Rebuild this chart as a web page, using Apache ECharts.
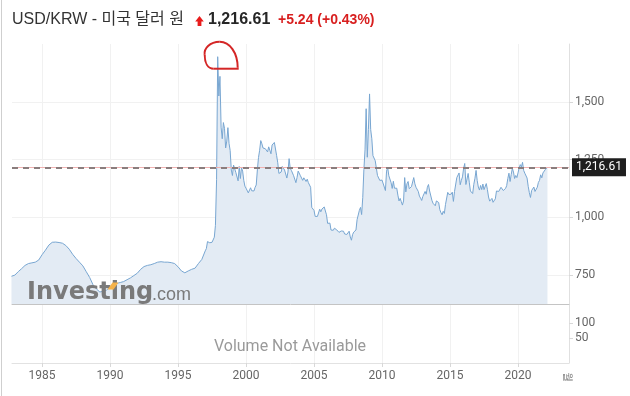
<!DOCTYPE html>
<html>
<head>
<meta charset="utf-8">
<script src="https://cdn.jsdelivr.net/npm/echarts@6/dist/echarts.min.js"></script>
<style>html,body{margin:0;padding:0;background:#fff;}#c{width:630px;height:396px;}</style>
</head>
<body>
<div id="c"></div>
<script>
// ---- data ----
const titleText = 'USD/KRW - 미국 달러 원';
const lastPrice = 1216.61;
const lastPriceText = '1,216.61';
const changeText = '+5.24 (+0.43%)';
const xTickYears = [1985, 1990, 1995, 2000, 2005, 2010, 2015, 2020];
const yTicks = [750, 1000, 1250, 1500];
const volTicks = [50, 100];

// quarterly values from Oct 1982 to Oct 1996 (every 3 months)
const quarterlyStart = 1982.75;
const quarterlyValues = [
  745,
  750, 765, 778, 792,
  800, 803, 806, 815,
  838, 858, 880, 892,
  893, 891, 888, 878,
  862, 840, 822, 806,
  790, 765, 740, 708,
  690, 677, 680, 685,
  700, 710, 714, 718,
  722, 730, 738, 748,
  758, 775, 787, 792,
  795, 800, 806, 808,
  806, 806, 804, 800,
  786, 768, 760, 768,
  775, 780, 800, 818
];
// monthly values from Jan 1997 to Mar 2022
const monthlyStart = 1997;
const monthlyValues = [
  855, 865, 895, 893, 890, 888, 892, 900, 914, 965, 1163, 1695,
  1525, 1610, 1390, 1340, 1410, 1385, 1300, 1330, 1388, 1320, 1289, 1205,
  1181, 1226, 1230, 1194, 1188, 1158, 1220, 1168, 1215, 1200, 1160, 1135,
  1126, 1130, 1106, 1109, 1128, 1115, 1116, 1114, 1130, 1140, 1205, 1259,
  1290, 1332, 1318, 1300, 1302, 1297, 1305, 1283, 1305, 1290, 1275, 1313,
  1319, 1324, 1318, 1267, 1236, 1190, 1188, 1196, 1220, 1226, 1205, 1200,
  1170, 1196, 1254, 1212, 1203, 1200, 1180, 1176, 1150, 1172, 1200, 1195,
  1180, 1178, 1160, 1171, 1167, 1155, 1165, 1150, 1150, 1130, 1043, 1035,
  1030, 1004, 1000, 1004, 1005, 1035, 1024, 1036, 1043, 1045, 1038, 1011,
  974, 973, 975, 945, 949, 944, 953, 961, 946, 952, 935, 930,
  941, 942, 940, 928, 930, 926, 920, 940, 915, 901, 925, 936,
  935, 945, 990, 998, 1030, 1043, 1012, 1086, 1207, 1292, 1470, 1260,
  1380, 1534, 1380, 1340, 1267, 1274, 1245, 1250, 1181, 1182, 1160, 1164,
  1161, 1156, 1131, 1116, 1200, 1216, 1180, 1187, 1150, 1125, 1156, 1126,
  1118, 1126, 1096, 1071, 1082, 1068, 1053, 1071, 1172, 1110, 1145, 1155,
  1124, 1125, 1133, 1131, 1172, 1145, 1130, 1133, 1112, 1092, 1083, 1073,
  1090, 1085, 1112, 1100, 1130, 1142, 1114, 1111, 1074, 1061, 1059, 1050,
  1071, 1066, 1064, 1033, 1020, 1011, 1026, 1017, 1055, 1057, 1108, 1099,
  1103, 1100, 1109, 1069, 1112, 1116, 1172, 1180, 1192, 1141, 1160, 1175,
  1212, 1233, 1142, 1140, 1190, 1152, 1114, 1115, 1103, 1143, 1169, 1203,
  1159, 1131, 1118, 1138, 1120, 1144, 1120, 1125, 1146, 1120, 1088, 1070,
  1065, 1082, 1065, 1067, 1080, 1114, 1116, 1112, 1110, 1130, 1122, 1116,
  1112, 1125, 1137, 1168, 1191, 1155, 1185, 1212, 1196, 1168, 1181, 1172,
  1192, 1214, 1228, 1218, 1238, 1203, 1191, 1187, 1170, 1134, 1107, 1086,
  1116, 1124, 1131, 1112, 1112, 1130, 1151, 1160, 1184, 1171, 1192, 1188,
  1206, 1202, 1216.61
];

// ---- build series points ----
const points = [];
quarterlyValues.forEach((v, i) => points.push([quarterlyStart + i * 0.25, v]));
monthlyValues.forEach((v, i) => points.push([monthlyStart + i / 12, v]));
let peakIdx = 0;
points.forEach((p, i) => { if (p[1] > points[peakIdx][1]) peakIdx = i; });

const X_MIN = 1982.79, X_MAX = 2023.75;
const FONT = 'Roboto, "Liberation Sans", Arial, sans-serif';
const fmt = v => Number(v).toLocaleString('en-US');

const chart = echarts.init(document.getElementById('c'), null, {renderer: 'canvas'});

const baseGraphic = [
  {type: 'line', shape: {x1: 1.5, y1: 0, x2: 1.5, y2: 396}, style: {stroke: '#cfcfcf', lineWidth: 1}, z: 10},
  {type: 'text', x: 12, y: 20, style: {text: titleText, font: '16px "Liberation Sans", "Noto Sans CJK KR", sans-serif', fill: '#333', verticalAlign: 'middle'}, z: 10},
  {type: 'polygon', shape: {points: [[199.5,16],[203.8,21.5],[201.4,21.5],[201.4,26],[197.6,26],[197.6,21.5],[195.2,21.5]]}, style: {fill: '#e81c1c'}, z: 10},
  {type: 'text', x: 208, y: 20, style: {text: lastPriceText, font: 'bold 16px "Liberation Sans", Arial, sans-serif', fill: '#262626', verticalAlign: 'middle'}, z: 10},
  {type: 'text', x: 278, y: 20.5, style: {text: changeText, font: 'bold 14px "Liberation Sans", Arial, sans-serif', fill: '#d81f1f', verticalAlign: 'middle'}, z: 10},
  {type: 'text', x: 290, y: 347, style: {text: 'Volume Not Available', font: '16px ' + FONT, fill: '#9a9a9a', align: 'center', verticalAlign: 'middle'}, z: 10},
  {type: 'text', x: 27, y: 292.5, style: {text: 'Investing', font: 'bold 24px "DejaVu Sans", sans-serif', fill: '#7a7a7a', verticalAlign: 'middle'}, z: 20},
  {type: 'polygon', shape: {points: [[107.5,289.5],[112.5,282.5],[118.5,282.5],[113.5,289.5]]}, style: {fill: '#f4b24a'}, z: 21},
  {type: 'text', x: 152, y: 294.7, style: {text: '.com', font: '18px "Liberation Sans", Arial, sans-serif', fill: '#7a7a7a', verticalAlign: 'middle'}, z: 20},
  {type: 'text', x: 568, y: 377, rotation: -Math.PI / 2, style: {text: '월', font: '10px "Noto Sans CJK KR", sans-serif', fill: '#777', align: 'center', verticalAlign: 'middle'}, z: 10}
];

const option = {
  animation: false,
  backgroundColor: '#fff',
  grid: [
    {left: 12, right: 61, top: 44, height: 260},
    {left: 12, right: 61, top: 304, height: 59}
  ],
  xAxis: [
    {
      type: 'value', gridIndex: 0, min: X_MIN, max: X_MAX,
      axisLine: {show: true, onZero: false, lineStyle: {color: '#c4c4c4'}},
      axisTick: {show: false, customValues: xTickYears},
      axisLabel: {show: false, customValues: xTickYears},
      splitLine: {show: true, lineStyle: {color: '#f1f1f1'}}
    },
    {
      type: 'value', gridIndex: 1, min: X_MIN, max: X_MAX,
      axisLine: {show: true, onZero: false, lineStyle: {color: '#e2e2e2'}},
      axisTick: {show: true, length: 4, customValues: xTickYears, lineStyle: {color: '#d8d8d8'}},
      axisLabel: {show: true, customValues: xTickYears, formatter: v => String(v), color: '#666', fontSize: 12, fontFamily: FONT, margin: 7},
      splitLine: {show: true, lineStyle: {color: '#f1f1f1'}}
    }
  ],
  yAxis: [
    {
      type: 'value', gridIndex: 0, position: 'right', min: 625, max: 1750,
      axisLine: {show: true, lineStyle: {color: '#e0e0e0'}},
      axisTick: {show: true, length: 4, customValues: yTicks, lineStyle: {color: '#d8d8d8'}},
      axisLabel: {show: true, customValues: yTicks, formatter: fmt, color: '#666', fontSize: 12, fontFamily: FONT, margin: 6},
      splitLine: {show: true, lineStyle: {color: '#f1f1f1'}}
    },
    {
      type: 'value', gridIndex: 1, position: 'right', min: -33, max: 163,
      axisLine: {show: true, lineStyle: {color: '#e0e0e0'}},
      axisTick: {show: true, length: 4, customValues: volTicks, lineStyle: {color: '#d8d8d8'}},
      axisLabel: {show: true, customValues: volTicks, formatter: fmt, color: '#666', fontSize: 12, fontFamily: FONT, margin: 6},
      splitLine: {show: false}
    }
  ],
  series: [{
    type: 'line', xAxisIndex: 0, yAxisIndex: 0,
    data: points, showSymbol: false, symbol: 'none',
    lineStyle: {color: '#78a6d1', width: 1},
    areaStyle: {color: '#e3ebf4', opacity: 1, origin: 'start'},
    z: 2,
    markLine: {
      silent: true, symbol: 'none', animation: false,
      data: [
        {yAxis: lastPrice, lineStyle: {color: '#f0b2b2', type: 'solid', width: 1}, label: {show: false}},
        {yAxis: lastPrice, lineStyle: {color: '#8a7d7d', type: [6, 5], width: 2},
         label: {show: true, position: 'end', distance: 3, formatter: lastPriceText,
                 backgroundColor: '#1e1e1e', color: '#fff', fontSize: 12, fontFamily: FONT,
                 padding: [3, 4, 3, 4], borderRadius: 0}}
      ]
    }
  }],
  graphic: baseGraphic
};
chart.setOption(option);

// hand-drawn red circle around the peak, placed from the peak's pixel position
const pk = chart.convertToPixel({gridIndex: 0}, points[peakIdx]);
const ring = {stroke: '#d42626', lineWidth: 2, fill: null};
chart.setOption({
  graphic: baseGraphic.concat([{
    type: 'group', x: pk[0], y: pk[1], z: 30,
    children: [
      {type: 'bezierCurve', shape: {x1: 20, y1: 11, cpx1: 20, cpy1: -4, cpx2: 12, cpy2: -15, x2: 2, y2: -15}, style: ring, z: 30},
      {type: 'bezierCurve', shape: {x1: 2, y1: -15, cpx1: -8, cpy1: -15, cpx2: -14, cpy2: -8, x2: -13, y2: -2}, style: ring, z: 30},
      {type: 'bezierCurve', shape: {x1: -13, y1: -2, cpx1: -13, cpy1: 6, cpx2: -10, cpy2: 12, x2: -4, y2: 12}, style: ring, z: 30},
      {type: 'line', shape: {x1: -4, y1: 12, x2: 21, y2: 12}, style: ring, z: 30}
    ]
  }])
});
</script>
</body>
</html>
